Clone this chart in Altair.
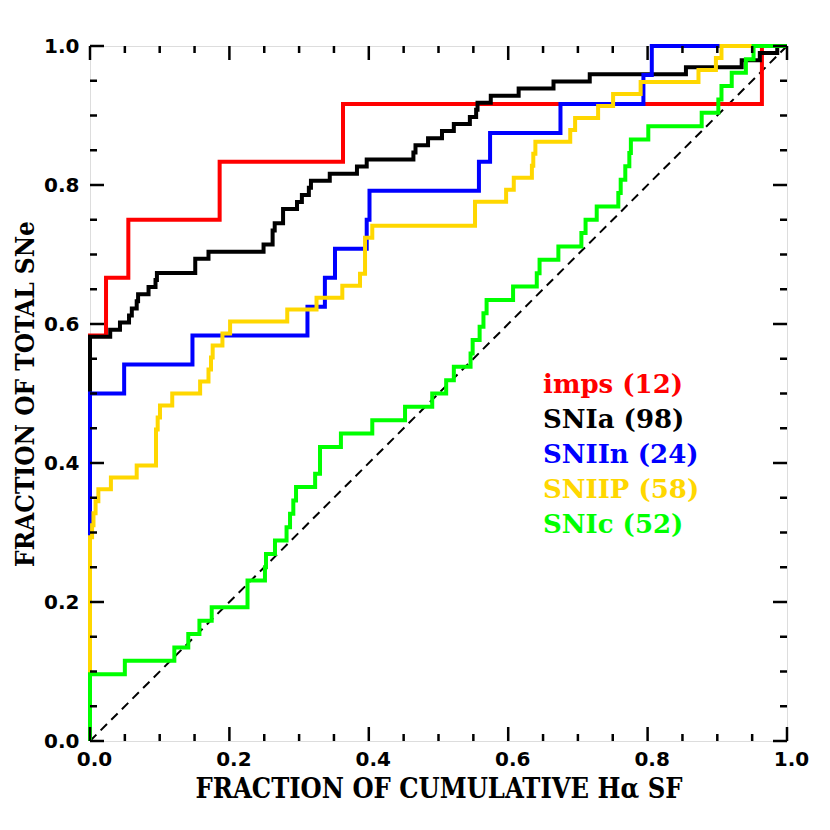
import altair as alt
import pandas as pd

# ---- data ----
imps_x = [0.0, 0.023, 0.055, 0.186, 0.363, 0.964]
imps_k = [7, 8, 9, 10, 11, 12]
imps_n = 12

snia_x = [0.0, 0.029, 0.043, 0.056, 0.060, 0.067, 0.069, 0.084, 0.094, 0.096,
          0.151, 0.170, 0.249, 0.262, 0.265, 0.277, 0.297, 0.304, 0.314, 0.317,
          0.344, 0.383, 0.397, 0.464, 0.467, 0.485, 0.505, 0.522, 0.545, 0.554,
          0.556, 0.575, 0.615, 0.665, 0.717, 0.855, 0.935, 0.961, 0.986]
snia_k = [57, 58, 59, 60, 61, 62, 63, 64, 65, 66,
          68, 69, 70, 72, 73, 75, 76, 77, 78, 79,
          80, 81, 82, 83, 84, 85, 86, 87, 88, 89,
          90, 91, 92, 93, 94, 95, 96, 97, 98]
snia_n = 98

sniin_x = [0.0, 0.049, 0.147, 0.312, 0.337, 0.3515, 0.397, 0.401, 0.558, 0.574,
           0.675, 0.794, 0.806]
sniin_k = [12, 13, 14, 15, 16, 17, 18, 19, 20, 21, 22, 23, 24]
sniin_n = 24

sniip_x = [0.0, 0.003, 0.005, 0.008, 0.012, 0.030, 0.067, 0.0947, 0.0971, 0.1004,
           0.118, 0.158, 0.170, 0.1736, 0.176, 0.190, 0.201, 0.283, 0.325, 0.362,
           0.3874, 0.3946, 0.405, 0.5524, 0.597, 0.608, 0.634, 0.636, 0.639, 0.689,
           0.696, 0.729, 0.7505, 0.790, 0.873, 0.898, 0.906]
sniip_k = [17, 18, 19, 20, 21, 22, 23, 26, 27, 28,
           29, 30, 31, 32, 33, 34, 35, 36, 37, 38,
           39, 42, 43, 45, 46, 47, 48, 49, 50, 51,
           52, 53, 54, 55, 56, 57, 58]
sniip_n = 58

snic_x = [0.0, 0.050, 0.121, 0.141, 0.157, 0.1746, 0.226, 0.251, 0.2525, 0.2654,
          0.282, 0.287, 0.2917, 0.2956, 0.323, 0.330, 0.360, 0.405, 0.452, 0.491,
          0.511, 0.522, 0.546, 0.549, 0.559, 0.5645, 0.569, 0.607, 0.641, 0.645,
          0.672, 0.705, 0.711, 0.727, 0.758, 0.7614, 0.768, 0.7738, 0.776, 0.801,
          0.8776, 0.9015, 0.906, 0.9207, 0.941, 0.952]
snic_k = [5, 6, 7, 8, 9, 10, 12, 13, 14, 15,
          16, 17, 18, 19, 20, 22, 23, 24, 25, 26,
          27, 28, 29, 30, 31, 32, 33, 34, 35, 36,
          37, 38, 39, 40, 41, 42, 43, 44, 45, 46,
          47, 48, 49, 50, 51, 52]
snic_n = 52

series_names = ["imps (12)", "SNIa (98)", "SNIIn (24)", "SNIIP (58)", "SNIc (52)"]
series_colors = ["#ff0000", "#000000", "#0000ff", "#ffd700", "#00ff00"]
series_data = [(imps_x, imps_k, imps_n), (snia_x, snia_k, snia_n),
               (sniin_x, sniin_k, sniin_n), (sniip_x, sniip_k, sniip_n),
               (snic_x, snic_k, snic_n)]

major_ticks = [0.0, 0.2, 0.4, 0.6, 0.8, 1.0]
minor_ticks = [0.05, 0.1, 0.15, 0.25, 0.3, 0.35, 0.45, 0.5, 0.55,
               0.65, 0.7, 0.75, 0.85, 0.9, 0.95]

W, H = 697, 695
TITLEFONT = "DejaVu Serif Condensed"
LABELFONT = "DejaVu Sans"
LEGFONT = "DejaVu Serif"

xs = alt.Scale(domain=[0, 1], nice=False, zero=False)
ys = alt.Scale(domain=[0, 1], nice=False, zero=False)

layers = []

# diagonal dashed line
diag = pd.DataFrame({"x": [0.0, 1.0], "y": [0.0, 1.0]})
layers.append(
    alt.Chart(diag).mark_line(color="black", strokeWidth=2, strokeDash=[9, 6]).encode(
        x=alt.X("x:Q", scale=xs,
                axis=alt.Axis(values=major_ticks, format=".1f", title="FRACTION OF CUMULATIVE Hα SF",
                              ticks=False, domain=False, grid=False, labelFlush=False,
                              labelFont=LABELFONT, labelFontSize=20, labelFontWeight="bold",
                              labelColor="black", labelPadding=8, labelOffset=4,
                              titleFont=TITLEFONT, titleFontSize=27, titleFontWeight="bold",
                              titleColor="black", titlePadding=7)),
        y=alt.Y("y:Q", scale=ys,
                axis=alt.Axis(values=major_ticks, format=".1f", title="FRACTION OF TOTAL SNe",
                              ticks=False, domain=False, grid=False, labelFlush=False,
                              labelFont=LABELFONT, labelFontSize=20, labelFontWeight="bold",
                              labelColor="black", labelPadding=11,
                              titleFont=TITLEFONT, titleFontSize=26, titleFontWeight="bold",
                              titleColor="black", titlePadding=5)),
    )
)

for (sx, sk, sn), name, col in zip(series_data, series_names, series_colors):
    px = [0.0] + list(sx) + [1.0]
    py = [0.0] + [k / sn for k in sk] + [1.0]
    df = pd.DataFrame({"x": px, "y": py, "i": list(range(len(px)))})
    layers.append(
        alt.Chart(df).mark_line(color=col, strokeWidth=4, interpolate="step-after").encode(
            x=alt.X("x:Q", scale=xs), y=alt.Y("y:Q", scale=ys), order="i:Q"
        )
    )

# inward ticks on four sides
def tick_layers(vals, length):
    d = pd.DataFrame({"v": vals})
    out = []
    out.append(alt.Chart(d).mark_rule(color="black", strokeWidth=2.5).encode(
        x=alt.X("v:Q", scale=xs), y=alt.value(H), y2=alt.value(H - length)))
    out.append(alt.Chart(d).mark_rule(color="black", strokeWidth=2.5).encode(
        x=alt.X("v:Q", scale=xs), y=alt.value(0), y2=alt.value(length)))
    out.append(alt.Chart(d).mark_rule(color="black", strokeWidth=2.5).encode(
        y=alt.Y("v:Q", scale=ys), x=alt.value(0), x2=alt.value(length)))
    out.append(alt.Chart(d).mark_rule(color="black", strokeWidth=2.5).encode(
        y=alt.Y("v:Q", scale=ys), x=alt.value(W), x2=alt.value(W - length)))
    return out

layers += tick_layers(major_ticks, 14)
layers += tick_layers(minor_ticks, 7)

# legend text
for i, (name, col) in enumerate(zip(series_names, series_colors)):
    layers.append(
        alt.Chart(pd.DataFrame({"t": [name]})).mark_text(
            align="left", baseline="middle", font=LEGFONT, fontSize=26,
            fontWeight="bold", color=col
        ).encode(text="t:N", x=alt.value(453), y=alt.value(339 + 35 * i))
    )

chart = alt.layer(*layers).properties(
    width=W, height=H,
    padding={"left": 82, "top": 38, "right": 25, "bottom": 80},
    autosize=alt.AutoSizeParams(type="none"),
).configure_view(stroke="black", strokeWidth=3.5).configure(background="white")

chart.save("out.html", embed_options={"renderer": "svg", "actions": False})
